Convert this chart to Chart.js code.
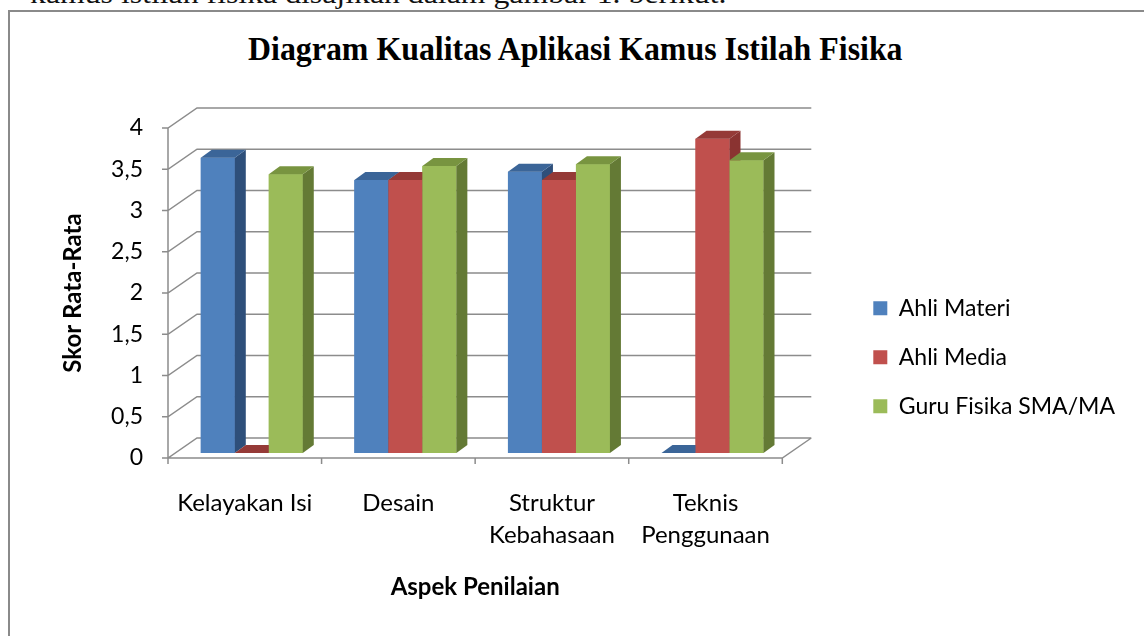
<!DOCTYPE html>
<html>
<head>
<meta charset="utf-8">
<script src="https://cdn.jsdelivr.net/npm/chart.js@4.4.1/dist/chart.umd.min.js"></script>
<style>
  body { margin:0; background:#fff; width:1144px; height:636px; overflow:hidden; position:relative; }
  #intro { position:absolute; left:30px; top:-20px; font:28px/28px "Liberation Serif", serif; white-space:nowrap; transform-origin:0 0; color:#111; }
  #frame { position:absolute; left:8px; top:10px; width:1200px; height:700px; border:2px solid #8a8a8a; }
  #title { position:absolute; left:248px; top:31px; font:bold 33px/36px "Liberation Serif", serif; white-space:nowrap; transform-origin:0 0; color:#000; }
  canvas { position:absolute; left:0; top:0; }
</style>
</head>
<body>
<div id="intro">kamus istilah fisika disajikan dalam gambar 1. berikut.</div>
<div id="frame"></div>
<div id="title">Diagram Kualitas Aplikasi Kamus Istilah Fisika</div>
<canvas id="chart" width="1144" height="636"></canvas>
<script>
// data
const categories = [['Kelayakan Isi'], ['Desain'], ['Struktur', 'Kebahasaan'], ['Teknis', 'Penggunaan']];
const seriesNames = ['Ahli Materi', 'Ahli Media', 'Guru Fisika SMA/MA'];
const ahliMateri = [3.58, 3.31, 3.41, 0];
const ahliMedia = [0, 3.31, 3.31, 3.81];
const guruFisika = [3.38, 3.48, 3.5, 3.55];
const yTickLabels = ['0', '0,5', '1', '1,5', '2', '2,5', '3', '3,5', '4'];

// squeeze the two serif lines to the widths they have in the picture
function fitWidth(id, w) {
    const el = document.getElementById(id);
    el.style.transform = `scaleX(${w / el.offsetWidth})`;
}
fitWidth('intro', 697);
fitWidth('title', 655);

const faces = [
    {front: '#4F81BD', side: '#2E4F7A', top: '#3B6598'},
    {front: '#C0504D', side: '#8A3331', top: '#953A37'},
    {front: '#9BBB59', side: '#647A35', top: '#789440'}
];
const WALL = {dx: 29, dy: -20};
const BAR_SHIFT = {dx: 7, dy: -5};
const BAR_DEPTH = {dx: 11, dy: -8};
const GRID = '#8c8c8c';
const FONT = 'Lato';

function poly(ctx, pts, color) {
    ctx.beginPath();
    ctx.moveTo(pts[0][0], pts[0][1]);
    pts.slice(1).forEach(p => ctx.lineTo(p[0], p[1]));
    ctx.closePath();
    ctx.fillStyle = color;
    ctx.fill();
}

// fake excel 3d: walls behind, bars pushed back a bit and given a side and a top
const box3d = {
    id: 'box3d',
    beforeDatasetsDraw(chart) {
        const {ctx, chartArea: a, scales: {y}} = chart;
        ctx.save();
        ctx.strokeStyle = GRID;
        ctx.lineWidth = 1.5;
        ctx.beginPath();
        y.ticks.forEach(t => {
            const py = y.getPixelForValue(t.value);
            ctx.moveTo(a.left - 6, py);
            ctx.lineTo(a.left, py);
            ctx.lineTo(a.left + WALL.dx, py + WALL.dy);
            ctx.lineTo(a.right + WALL.dx, py + WALL.dy);
        });
        ctx.moveTo(a.left, a.top);
        ctx.lineTo(a.left, a.bottom);
        ctx.lineTo(a.right, a.bottom);
        ctx.lineTo(a.right + WALL.dx, a.bottom + WALL.dy);
        const n = chart.data.labels.length;
        const step = (a.right - a.left) / n;
        for (let i = 0; i <= n; i++) {
            const px = a.left + i * step;
            ctx.moveTo(px, a.bottom);
            ctx.lineTo(px, a.bottom + 6);
        }
        ctx.stroke();
        ctx.restore();
        ctx.save();
        ctx.translate(BAR_SHIFT.dx, BAR_SHIFT.dy);
    },
    afterDatasetsDraw(chart) {
        const ctx = chart.ctx;
        chart.data.datasets.forEach((ds, di) => {
            const f = faces[di];
            chart.getDatasetMeta(di).data.forEach(bar => {
                const {x, y, base, width} = bar.getProps(['x', 'y', 'base', 'width'], true);
                const l = x - width / 2, r = x + width / 2;
                bar.draw(ctx);
                poly(ctx, [[r, y], [r + BAR_DEPTH.dx, y + BAR_DEPTH.dy], [r + BAR_DEPTH.dx, base + BAR_DEPTH.dy], [r, base]], f.side);
                poly(ctx, [[l, y], [l + BAR_DEPTH.dx, y + BAR_DEPTH.dy], [r + BAR_DEPTH.dx, y + BAR_DEPTH.dy], [r, y]], f.top);
            });
        });
        ctx.restore();
    }
};

new Chart(document.getElementById('chart'), {
    type: 'bar',
    data: {
        labels: categories,
        datasets: [
            {label: seriesNames[0], data: ahliMateri, backgroundColor: faces[0].front},
            {label: seriesNames[1], data: ahliMedia, backgroundColor: faces[1].front},
            {label: seriesNames[2], data: guruFisika, backgroundColor: faces[2].front}
        ]
    },
    options: {
        responsive: false,
        animation: false,
        barPercentage: 1,
        categoryPercentage: 0.664,
        layout: {padding: {top: 128, left: 0, right: 19, bottom: 0}},
        scales: {
            x: {
                grid: {display: false, drawTicks: false},
                border: {display: false},
                ticks: {padding: 29, color: '#000', maxRotation: 0, autoSkip: false,
                        font: {family: FONT, size: 24, lineHeight: 1.33}},
                title: {display: true, text: 'Aspek Penilaian', color: '#000',
                        font: {family: FONT, size: 24, weight: 'bold'}, padding: {top: 0, bottom: 34}},
                afterFit(s) { s.height = 178; }
            },
            y: {
                min: 0, max: 4,
                grid: {display: false, drawTicks: false},
                border: {display: false},
                ticks: {stepSize: 0.5, padding: 25, color: '#000', font: {family: FONT, size: 23},
                        callback: (v, i) => yTickLabels[i]},
                title: {display: true, text: 'Skor Rata-Rata', color: '#000',
                        font: {family: FONT, size: 24, weight: 'bold'}, padding: {top: 59, bottom: 0}},
                afterFit(s) { s.width = 168; }
            },
            // empty strip between the plot and the legend
            gap: {
                type: 'linear', axis: 'y', position: 'right', display: false,
                afterFit(s) { s.width = 65; }
            }
        },
        plugins: {
            legend: {
                position: 'right',
                align: 'center',
                fullSize: false,
                title: {display: true, text: ' ', padding: {top: 57, bottom: 57}},
                labels: {boxWidth: 14, boxHeight: 14, padding: 26, color: '#000',
                         font: {family: FONT, size: 23}}
            },
            tooltip: {enabled: false}
        }
    },
    plugins: [box3d]
});
</script>
</body>
</html>
